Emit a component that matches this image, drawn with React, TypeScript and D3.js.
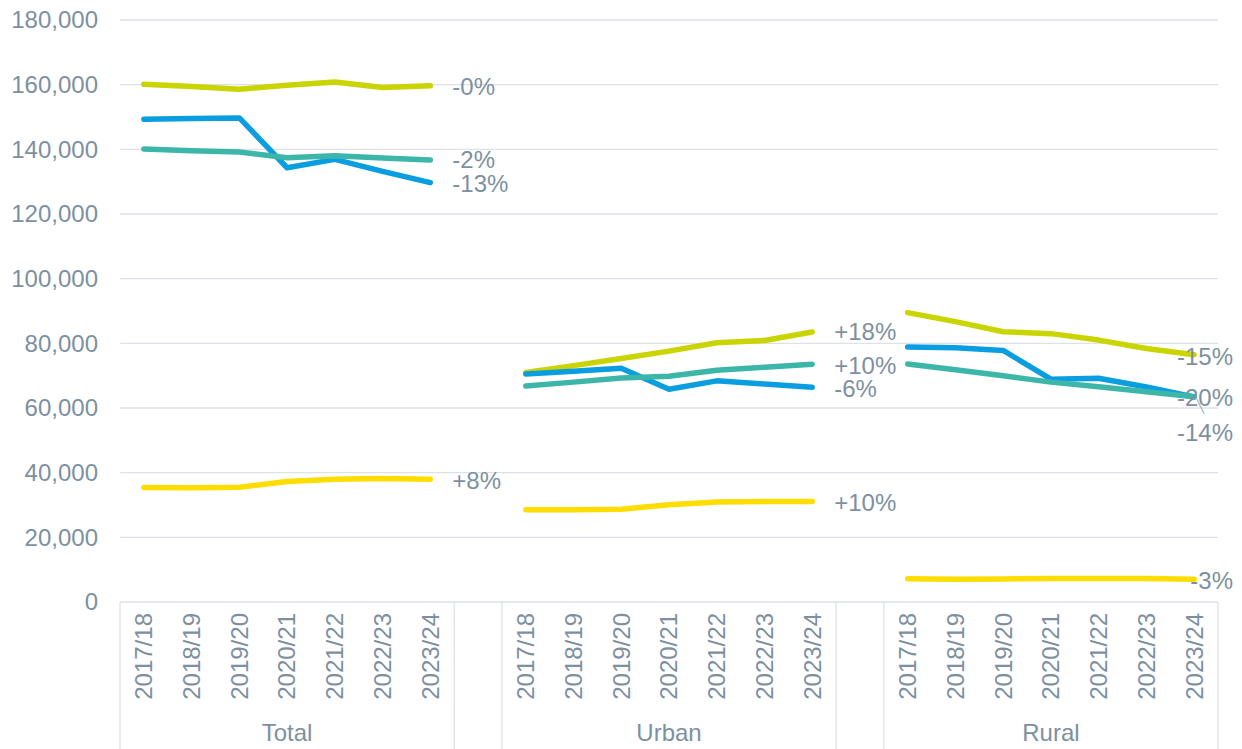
import React, { useEffect, useRef } from "react";
import * as d3 from "d3";

// categories
const years = ["2017/18", "2018/19", "2019/20", "2020/21", "2021/22", "2022/23", "2023/24"];
const groups = ["Total", "Urban", "Rural"];
const yTicks = [0, 20000, 40000, 60000, 80000, 100000, 120000, 140000, 160000, 180000];

// series values, one array per group (Total, Urban, Rural)
const limeValues = [
  [160100, 159400, 158600, 159800, 160800, 159100, 159700],
  [71000, 73100, 75300, 77600, 80200, 80900, 83500],
  [89500, 86700, 83600, 83000, 81000, 78400, 76500],
];
const blueValues = [
  [149300, 149500, 149700, 134300, 136900, 133200, 129700],
  [70500, 71400, 72300, 65800, 68400, 67400, 66400],
  [78900, 78600, 77800, 68900, 69200, 66500, 63400],
];
const tealValues = [
  [140100, 139600, 139200, 137400, 138000, 137300, 136700],
  [66800, 68000, 69300, 69800, 71700, 72600, 73500],
  [73600, 71800, 70000, 68000, 66600, 65000, 63500],
];
const yellowValues = [
  [35400, 35300, 35500, 37300, 38000, 38200, 38000],
  [28500, 28500, 28700, 30100, 30900, 31100, 31100],
  [7200, 7000, 7100, 7300, 7300, 7300, 7000],
];

// change labels at the end of each line
const limeChange = ["-0%", "+18%", "-15%"];
const blueChange = ["-13%", "-6%", "-20%"];
const tealChange = ["-2%", "+10%", "-14%"];
const yellowChange = ["+8%", "+10%", "-3%"];

const WIDTH = 1242;
const HEIGHT = 749;
const TEXT = "#7d90a1";
const GRID = "#dde2e7";
const FONT = "'Liberation Sans', Arial, sans-serif";
const FS = 24;

export default function App() {
  const ref = useRef<SVGSVGElement>(null);

  useEffect(() => {
    const svg = d3.select(ref.current);
    svg.selectAll("*").remove();

    const left = 120;
    const right = 1218;
    const top = 20;
    const bottom = 602;

    // one slot per year plus an empty slot between groups
    const slots: string[] = [];
    groups.forEach((g, i) => {
      years.forEach(yr => slots.push(g + "|" + yr));
      if (i < groups.length - 1) slots.push("gap" + i);
    });

    const x = d3.scaleBand().domain(slots).range([left, right]);
    const y = d3.scaleLinear().domain([0, 180000]).range([bottom, top]);
    const cx = (g: string, yr: string) => (x(g + "|" + yr) as number) + x.bandwidth() / 2;

    // grid lines + y tick labels
    svg
      .append("g")
      .selectAll("line")
      .data(yTicks)
      .enter()
      .append("line")
      .attr("x1", left)
      .attr("x2", right)
      .attr("y1", d => y(d))
      .attr("y2", d => y(d))
      .attr("stroke", GRID)
      .attr("stroke-width", 1.3);

    svg
      .append("g")
      .selectAll("text")
      .data(yTicks)
      .enter()
      .append("text")
      .attr("x", 98)
      .attr("y", d => y(d))
      .attr("dy", "0.35em")
      .attr("text-anchor", "end")
      .attr("fill", TEXT)
      .attr("font-family", FONT)
      .attr("font-size", FS)
      .text(d => d3.format(",")(d));

    // category separators
    const seps = [left, ...slots.filter(s => s.startsWith("gap")).flatMap(s => {
      const x0 = x(s) as number;
      return [x0, x0 + x.bandwidth()];
    }), right];
    svg
      .append("g")
      .selectAll("line")
      .data(seps)
      .enter()
      .append("line")
      .attr("x1", d => d)
      .attr("x2", d => d)
      .attr("y1", bottom)
      .attr("y2", HEIGHT)
      .attr("stroke", GRID)
      .attr("stroke-width", 1.3);

    // year labels
    groups.forEach(g => {
      svg
        .append("g")
        .selectAll("text")
        .data(years)
        .enter()
        .append("text")
        .attr("transform", yr => `translate(${cx(g, yr)},613) rotate(-90)`)
        .attr("dy", "0.35em")
        .attr("text-anchor", "end")
        .attr("fill", TEXT)
        .attr("font-family", FONT)
        .attr("font-size", FS)
        .text(yr => yr);

      const mid = (cx(g, years[0]) + cx(g, years[years.length - 1])) / 2;
      svg
        .append("text")
        .attr("x", mid)
        .attr("y", 741)
        .attr("text-anchor", "middle")
        .attr("fill", TEXT)
        .attr("font-family", FONT)
        .attr("font-size", FS)
        .text(g);
    });

    const series = [
      { color: "#ffdd00", values: yellowValues, labels: yellowChange, dy: [1, 1, 1] },
      { color: "#c9d400", values: limeValues, labels: limeChange, dy: [1, 0, 2] },
      { color: "#0a9ee0", values: blueValues, labels: blueChange, dy: [1, 1, 1] },
      { color: "#3cb6a8", values: tealValues, labels: tealChange, dy: [0, 1, 36] },
    ];

    series.forEach(s => {
      groups.forEach((g, gi) => {
        const pts = years.map((yr, i) => [cx(g, yr), y(s.values[gi][i])] as [number, number]);
        svg
          .append("path")
          .attr("d", d3.line()(pts))
          .attr("fill", "none")
          .attr("stroke", s.color)
          .attr("stroke-width", 5.5)
          .attr("stroke-linecap", "round")
          .attr("stroke-linejoin", "round");
      });
    });

    // end labels
    series.forEach(s => {
      groups.forEach((g, gi) => {
        const lx = cx(g, years[years.length - 1]);
        const ly = y(s.values[gi][years.length - 1]);
        const last = gi === groups.length - 1;
        if (s.dy[gi] > 20) {
          svg
            .append("line")
            .attr("x1", lx + 2)
            .attr("y1", ly + 1)
            .attr("x2", lx + 10)
            .attr("y2", ly + 17)
            .attr("stroke", "#aab5bf")
            .attr("stroke-width", 1.3);
        }
        svg
          .append("text")
          .attr("x", last ? 1233 : lx + 22)
          .attr("y", ly + s.dy[gi])
          .attr("dy", "0.35em")
          .attr("text-anchor", last ? "end" : "start")
          .attr("fill", TEXT)
          .attr("font-family", FONT)
          .attr("font-size", FS)
          .text(s.labels[gi]);
      });
    });
  }, []);

  return (
    <svg
      ref={ref}
      width={WIDTH}
      height={HEIGHT}
      style={{ position: "absolute", left: 0, top: 0, background: "#fff" }}
    />
  );
}
